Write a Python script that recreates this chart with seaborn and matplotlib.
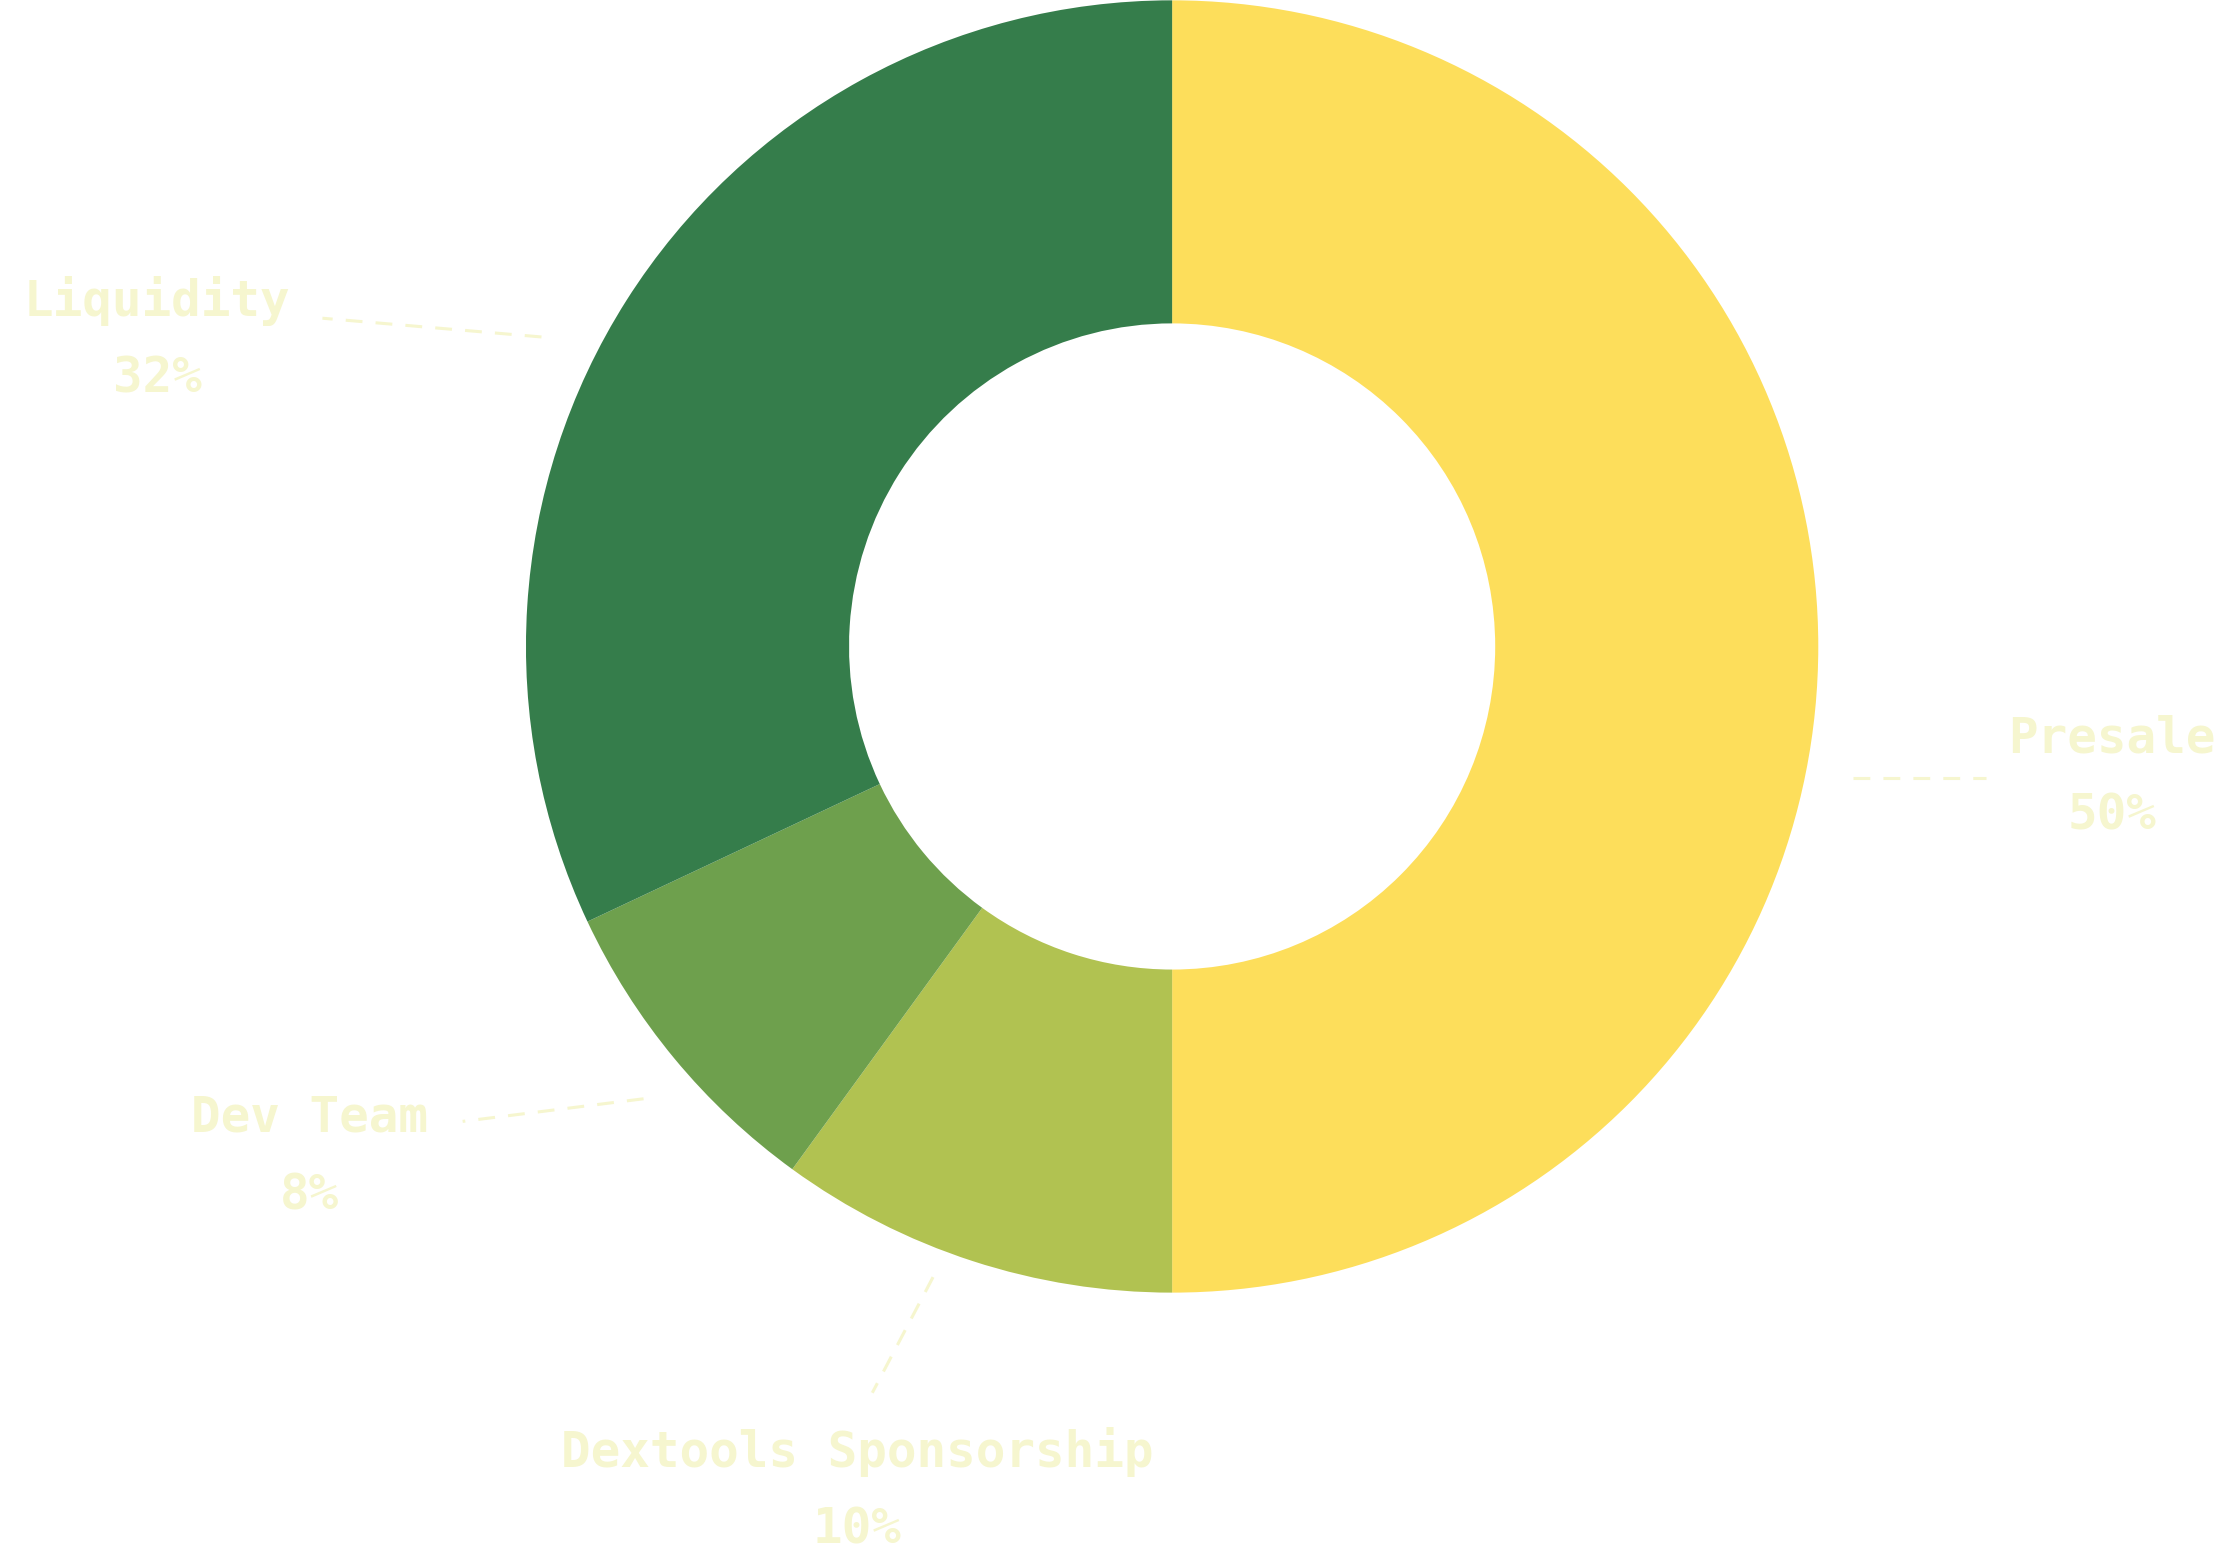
import seaborn as sns
import matplotlib.pyplot as plt
import numpy as np

sns.set_theme(style="white")
plt.rcParams['font.family'] = ['DejaVu Sans Mono', 'DejaVu Sans']

# token allocation, clockwise from 12 o'clock
labels = ["Presale", "Dextools Sponsorship", "Dev Team", "Liquidity"]
shares = [50, 10, 8, 32]
colors = ["#FDDE5B", "#B1C251", "#6EA04D", "#357D4B"]

# label placement (data units, pie radius = 1)
text_pos = [(1.455, -0.142), (-0.488, -1.247), (-1.335, -0.729), (-1.571, 0.534)]
line_pos = [((1.053, -0.204), (1.260, -0.204)),
            ((-0.370, -0.976), (-0.464, -1.155)),
            ((-0.818, -0.700), (-1.098, -0.735)),
            ((-0.976, 0.479), (-1.315, 0.508))]
txt_color = "#F6F6CF"

fig = plt.figure(figsize=(22.17, 15.63), dpi=100)
ax = fig.add_axes([0, 0, 1, 1])
ax.pie(shares, colors=colors, startangle=90, counterclock=False,
       wedgeprops=dict(width=0.5, edgecolor="none"), radius=1.0)

for lab, val, (tx, ty), (p0, p1) in zip(labels, shares, text_pos, line_pos):
    ax.plot([p0[0], p1[0]], [p0[1], p1[1]], color=txt_color, lw=2.2,
            ls=(0, (5.5, 4.3)))
    ax.text(tx, ty, lab, ha="center", va="center", fontsize=35.5,
            fontweight="bold", color=txt_color)
    ax.text(tx, ty - 0.12, f"{val}%", ha="center", va="center", fontsize=35.5,
            fontweight="bold", color=txt_color)

ax.set_xlim(-829 / 457, (1568 - 829) / 457)
ax.set_ylim(-(1105 - 457) / 457, 1.0)
ax.set_aspect("equal")
ax.axis("off")
fig.savefig("out.png", dpi=100, facecolor="white")
